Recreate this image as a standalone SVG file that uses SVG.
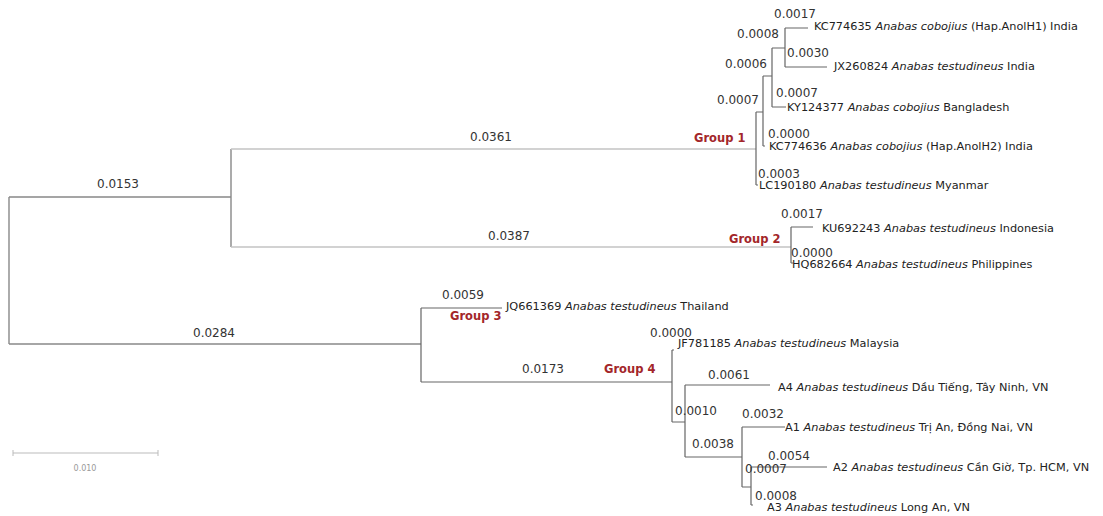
<svg xmlns="http://www.w3.org/2000/svg" width="1103" height="516" viewBox="0 0 1103 516">
<style>
.e{fill:none;stroke:#666;stroke-width:1.2}
.el{fill:none;stroke:#c4c4c4;stroke-width:1.4}
.em{fill:none;stroke:#888;stroke-width:1.4}
.n{font-family:"DejaVu Sans",Verdana,sans-serif;font-size:12px;fill:#333}
.l{font-family:"DejaVu Sans",Verdana,sans-serif;font-size:11.3px;fill:#222}
.l tspan.i{font-style:italic}
.g{font-family:"DejaVu Sans",Verdana,sans-serif;font-size:11.5px;font-weight:bold;fill:#a3262a}
.s{font-family:"DejaVu Sans",sans-serif;font-size:8px;fill:#999}
</style>
<rect width="1103" height="516" fill="#fff"/>
<g id="connectors">
<path class="em" d="M9,197V344"/>
<path class="em" d="M9,197H231M231,149V247"/>
<path class="el" d="M231,149H756M231,247H791"/>
<path class="em" d="M9,344H421"/>
<path class="e" d="M756,112V185M756,185H758M756,112H763M763,76V146M763,146H765M763,76H772M772,48V107M772,107H786M772,48H785M785,28V67M785,28H808M785,67H827"/>
<path class="e" d="M791,227V263M791,227H813M791,263H793"/>
<path class="e" d="M421,308V382M421,308H502M421,382H672"/>
<path class="e" d="M672,350V422M672,350H674M672,422H685M685,385V457M685,385H770M685,457H742M742,427V487M742,427H785M742,487H751M751,467V505M751,467H827M751,505H753"/>
</g>
<g id="root">
<text class="n" x="97" y="188">0.0153</text>
<text class="n" x="193" y="337">0.0284</text>
</g>
<g id="group1">
<text class="n" x="470" y="141">0.0361</text>
<text class="g" x="694" y="142">Group 1</text>
<text class="n" x="717" y="104">0.0007</text>
<text class="n" x="725" y="68">0.0006</text>
<text class="n" x="737" y="38">0.0008</text>
</g>
<g id="leaf-KC774635">
<text class="n" x="774" y="18">0.0017</text>
<text class="l" x="814" y="30">KC774635 <tspan class="i">Anabas cobojius</tspan> (Hap.AnolH1) India</text>
</g>
<g id="leaf-JX260824">
<text class="n" x="787" y="57">0.0030</text>
<text class="l" x="834" y="70">JX260824 <tspan class="i">Anabas testudineus</tspan> India</text>
</g>
<g id="leaf-KY124377">
<text class="n" x="776" y="97">0.0007</text>
<text class="l" x="787" y="111">KY124377 <tspan class="i">Anabas cobojius</tspan> Bangladesh</text>
</g>
<g id="leaf-KC774636">
<text class="n" x="768" y="138">0.0000</text>
<text class="l" x="769" y="150">KC774636 <tspan class="i">Anabas cobojius</tspan> (Hap.AnolH2) India</text>
</g>
<g id="leaf-LC190180">
<text class="n" x="758" y="178">0.0003</text>
<text class="l" x="759" y="189">LC190180 <tspan class="i">Anabas testudineus</tspan> Myanmar</text>
</g>
<g id="group2">
<text class="n" x="488" y="240">0.0387</text>
<text class="g" x="729" y="243">Group 2</text>
</g>
<g id="leaf-KU692243">
<text class="n" x="781" y="218">0.0017</text>
<text class="l" x="822" y="232">KU692243 <tspan class="i">Anabas testudineus</tspan> Indonesia</text>
</g>
<g id="leaf-HQ682664">
<text class="n" x="791" y="257">0.0000</text>
<text class="l" x="792" y="268">HQ682664 <tspan class="i">Anabas testudineus</tspan> Philippines</text>
</g>
<g id="group3">
<text class="n" x="442" y="299">0.0059</text>
<text class="g" x="450" y="320">Group 3</text>
<text class="l" x="506" y="310">JQ661369 <tspan class="i">Anabas testudineus</tspan> Thailand</text>
</g>
<g id="group4">
<text class="n" x="522" y="373">0.0173</text>
<text class="g" x="604" y="373">Group 4</text>
<text class="n" x="675" y="415">0.0010</text>
<text class="n" x="692" y="448">0.0038</text>
<text class="n" x="745" y="473">0.0007</text>
</g>
<g id="leaf-JF781185">
<text class="n" x="650" y="337">0.0000</text>
<text class="l" x="678" y="347">JF781185 <tspan class="i">Anabas testudineus</tspan> Malaysia</text>
</g>
<g id="leaf-A4">
<text class="n" x="708" y="379">0.0061</text>
<text class="l" x="778" y="391">A4 <tspan class="i">Anabas testudineus</tspan> Dầu Tiếng, Tây Ninh, VN</text>
</g>
<g id="leaf-A1">
<text class="n" x="742" y="418">0.0032</text>
<text class="l" x="785" y="431">A1 <tspan class="i">Anabas testudineus</tspan> Trị An, Đồng Nai, VN</text>
</g>
<g id="leaf-A2">
<text class="n" x="768" y="460">0.0054</text>
<text class="l" x="833" y="471">A2 <tspan class="i">Anabas testudineus</tspan> Cần Giờ, Tp. HCM, VN</text>
</g>
<g id="leaf-A3">
<text class="n" x="755" y="500">0.0008</text>
<text class="l" x="767" y="511">A3 <tspan class="i">Anabas testudineus</tspan> Long An, VN</text>
</g>
<g id="scale">
<path d="M13,453H158M13,450V456M158,450V456" fill="none" stroke="#bbb" stroke-width="1"/>
<text class="s" x="85" y="471" text-anchor="middle">0.010</text>
</g>
</svg>
